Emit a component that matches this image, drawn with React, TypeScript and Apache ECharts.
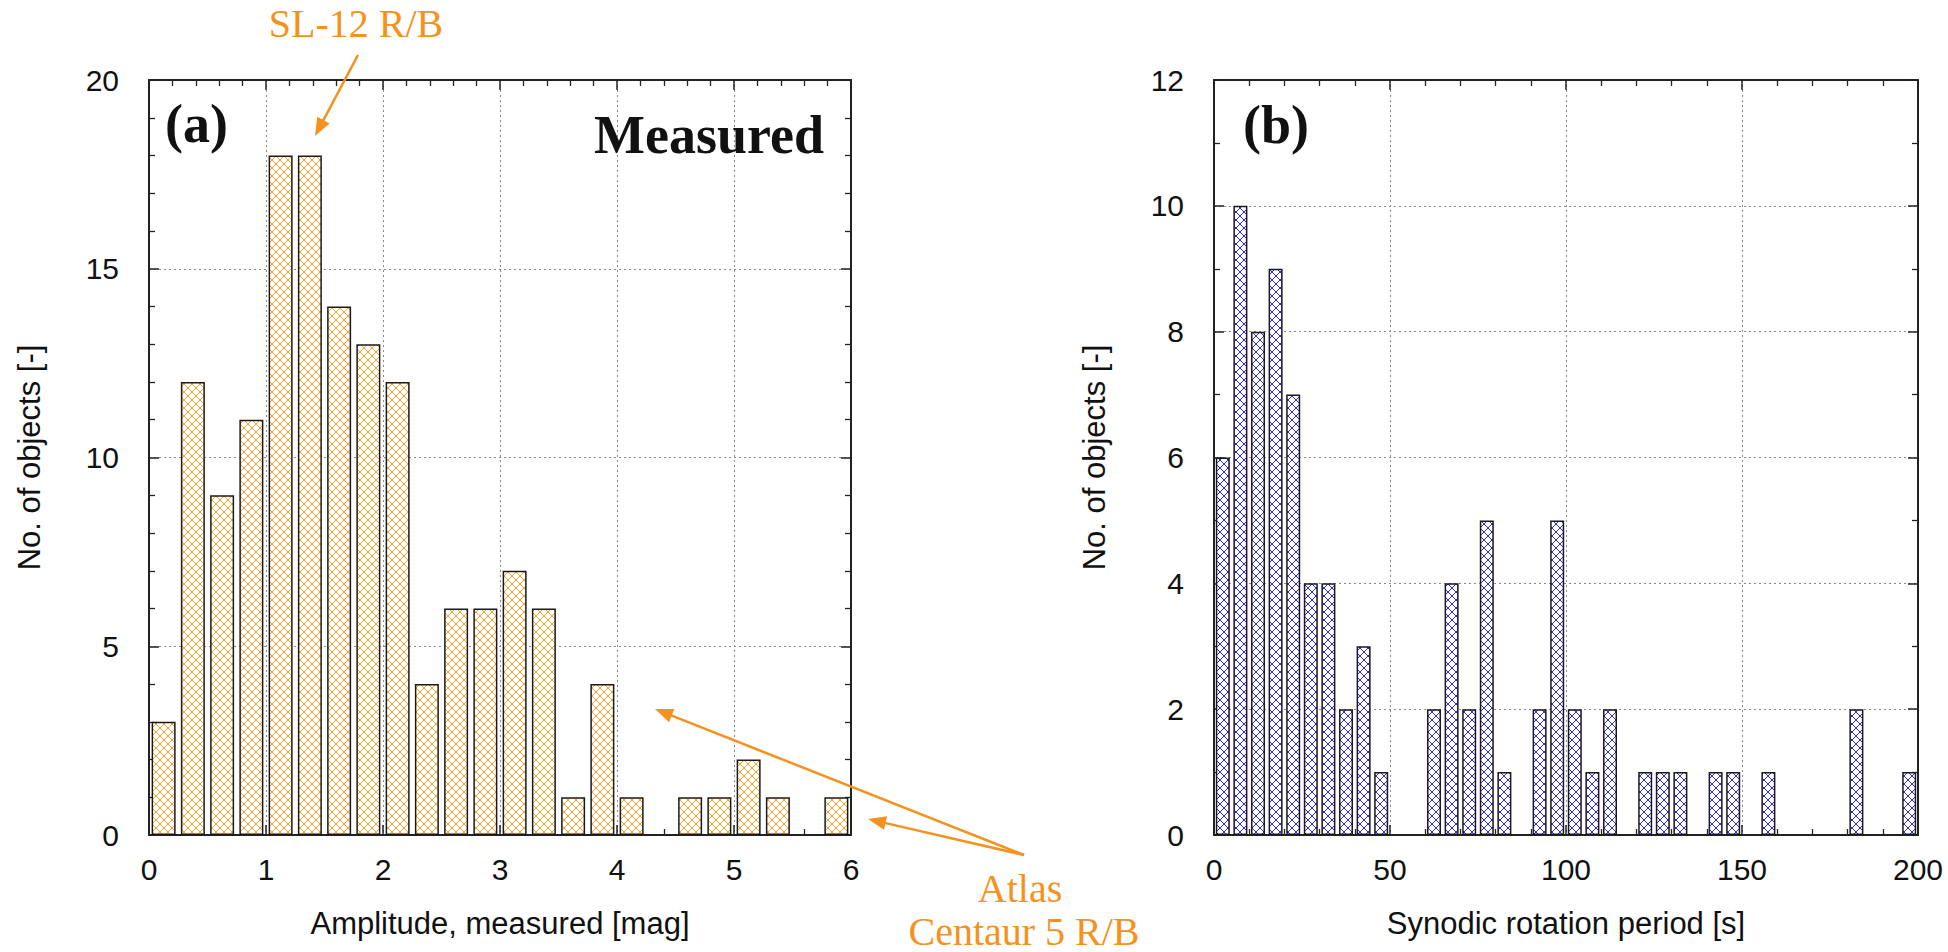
import React, { useEffect, useRef } from "react";
import * as echarts from "echarts";

// ---- data ----
const ampBinCenters = [
  0.125, 0.375, 0.625, 0.875, 1.125, 1.375, 1.625, 1.875, 2.125, 2.375, 2.625, 2.875,
  3.125, 3.375, 3.625, 3.875, 4.125, 4.375, 4.625, 4.875, 5.125, 5.375, 5.625, 5.875,
];
const ampCounts = [3, 12, 9, 11, 18, 18, 14, 13, 12, 4, 6, 6, 7, 6, 1, 4, 1, 0, 1, 1, 2, 1, 0, 1];

const periodBinCenters = [
  2.5, 7.5, 12.5, 17.5, 22.5, 27.5, 32.5, 37.5, 42.5, 47.5,
  52.5, 57.5, 62.5, 67.5, 72.5, 77.5, 82.5, 87.5, 92.5, 97.5,
  102.5, 107.5, 112.5, 117.5, 122.5, 127.5, 132.5, 137.5, 142.5, 147.5,
  152.5, 157.5, 162.5, 167.5, 172.5, 177.5, 182.5, 187.5, 192.5, 197.5,
];
const periodCounts = [
  6, 10, 8, 9, 7, 4, 4, 2, 3, 1,
  0, 0, 2, 4, 2, 5, 1, 0, 2, 5,
  2, 1, 2, 0, 1, 1, 1, 0, 1, 1,
  0, 1, 0, 0, 0, 0, 2, 0, 0, 1,
];

const ampTicks = { min: 0, max: 6, interval: 1 };
const ampCountTicks = { min: 0, max: 20, interval: 5 };
const periodTicks = { min: 0, max: 200, interval: 50 };
const periodCountTicks = { min: 0, max: 12, interval: 2 };

const ORANGE = "#f5921e";
const SANS = "Liberation Sans, Arial, sans-serif";
const SERIF = "Liberation Serif, Times New Roman, serif";

function hatch(color: string, size: number) {
  const c = document.createElement("canvas");
  c.width = size;
  c.height = size;
  const g = c.getContext("2d")!;
  g.fillStyle = "#ffffff";
  g.fillRect(0, 0, size, size);
  g.strokeStyle = color;
  g.lineWidth = 1;
  g.beginPath();
  for (const off of [-size, 0, size]) {
    g.moveTo(off - 1, -1);
    g.lineTo(off + size + 1, size + 1);
    g.moveTo(off + size + 1, -1);
    g.lineTo(off - 1, size + 1);
  }
  g.stroke();
  return { image: c.toDataURL(), repeat: "repeat", imageWidth: size, imageHeight: size } as any;
}

function arrow(x1: number, y1: number, x2: number, y2: number, color: string) {
  const dx = x2 - x1;
  const dy = y2 - y1;
  const len = Math.sqrt(dx * dx + dy * dy);
  const ux = dx / len;
  const uy = dy / len;
  const hl = 18;
  const hw = 7;
  const bx = x2 - ux * hl;
  const by = y2 - uy * hl;
  return [
    {
      type: "line",
      shape: { x1, y1, x2: bx + ux * 2, y2: by + uy * 2 },
      style: { stroke: color, lineWidth: 2.5 },
      z: 100,
    },
    {
      type: "polygon",
      shape: {
        points: [
          [x2, y2],
          [bx - uy * hw, by + ux * hw],
          [bx + uy * hw, by - ux * hw],
        ],
      },
      style: { fill: color },
      z: 100,
    },
  ];
}

const axisLineStyle = { show: true, onZero: false, lineStyle: { color: "#222", width: 2 } };
const labelStyle = { color: "#111", fontSize: 30, fontFamily: SANS };
const splitStyle = { show: true, lineStyle: { color: "#8a8a8a", width: 1, type: [2, 3] as any } };
const majorTick = { show: true, inside: true, length: 10, lineStyle: { color: "#222", width: 1.5 } };

function mkX(gridIndex: number, t: any, minorSplit: number, name: string) {
  const minorTick = { show: true, splitNumber: minorSplit, length: 6, lineStyle: { color: "#222", width: 1.3 } };
  return [
    {
      type: "value",
      gridIndex,
      position: "bottom",
      min: t.min,
      max: t.max,
      interval: t.interval,
      axisLine: axisLineStyle,
      axisTick: majorTick,
      minorTick,
      splitLine: splitStyle,
      axisLabel: { ...labelStyle, margin: 34, verticalAlign: "middle" },
      name,
      nameLocation: "middle",
      nameGap: 88,
      nameTextStyle: { color: "#111", fontSize: 31, fontFamily: SANS, verticalAlign: "middle" },
    },
    {
      type: "value",
      gridIndex,
      position: "top",
      min: t.min,
      max: t.max,
      interval: t.interval,
      axisLine: axisLineStyle,
      axisTick: majorTick,
      minorTick,
      splitLine: { show: false },
      axisLabel: { show: false },
    },
  ];
}

function mkY(gridIndex: number, t: any, minorSplit: number, name: string) {
  const minorTick = { show: true, splitNumber: minorSplit, length: 6, lineStyle: { color: "#222", width: 1.3 } };
  return [
    {
      type: "value",
      gridIndex,
      position: "left",
      min: t.min,
      max: t.max,
      interval: t.interval,
      axisLine: axisLineStyle,
      axisTick: majorTick,
      minorTick,
      splitLine: splitStyle,
      axisLabel: { ...labelStyle, margin: 30 },
      name,
      nameLocation: "middle",
      nameGap: 120,
      nameRotate: 90,
      nameTextStyle: { color: "#111", fontSize: 31, fontFamily: SANS, verticalAlign: "middle" },
    },
    {
      type: "value",
      gridIndex,
      position: "right",
      min: t.min,
      max: t.max,
      interval: t.interval,
      axisLine: axisLineStyle,
      axisTick: majorTick,
      minorTick,
      splitLine: { show: false },
      axisLabel: { show: false },
    },
  ];
}

export default function App() {
  const ref = useRef<HTMLDivElement>(null);

  useEffect(() => {
    document.body.style.margin = "0";
    if (!ref.current) return;
    const chart = echarts.init(ref.current, undefined, { renderer: "svg" });

    const ampData = ampBinCenters
      .map((x, i) => [x, ampCounts[i]])
      .filter((d) => d[1] > 0);
    const periodData = periodBinCenters
      .map((x, i) => [x, periodCounts[i]])
      .filter((d) => d[1] > 0);

    const xs = [...mkX(0, ampTicks, 5, "Amplitude, measured [mag]"), ...mkX(1, periodTicks, 5, "Synodic rotation period [s]")];
    const ys = [...mkY(0, ampCountTicks, 5, "No. of objects [-]"), ...mkY(1, periodCountTicks, 2, "No. of objects [-]")];

    const graphics: any[] = [
      {
        type: "text",
        x: 356,
        y: 23,
        style: { text: "SL-12 R/B", fill: ORANGE, font: `40px ${SERIF}`, align: "center", verticalAlign: "middle" },
        z: 100,
      },
      ...arrow(358, 55, 315, 136, ORANGE),
      {
        type: "text",
        x: 1020,
        y: 888,
        style: { text: "Atlas", fill: ORANGE, font: `40px ${SERIF}`, lineHeight: 34, align: "center", verticalAlign: "middle" },
        z: 100,
      },
      {
        type: "text",
        x: 1024,
        y: 931,
        style: { text: "Centaur 5 R/B", fill: ORANGE, font: `40px ${SERIF}`, lineHeight: 34, align: "center", verticalAlign: "middle" },
        z: 100,
      },
      ...arrow(1024, 855, 655, 709, ORANGE),
      ...arrow(1024, 855, 868, 819, ORANGE),
      {
        type: "text",
        x: 165,
        y: 124,
        style: { text: "(a)", fill: "#111", font: `bold 54px ${SERIF}`, align: "left", verticalAlign: "middle" },
        z: 100,
      },
      {
        type: "text",
        x: 1243,
        y: 125,
        style: { text: "(b)", fill: "#111", font: `bold 54px ${SERIF}`, align: "left", verticalAlign: "middle" },
        z: 100,
      },
      {
        type: "text",
        x: 824,
        y: 135,
        style: { text: "Measured", fill: "#111", font: `bold 54px ${SERIF}`, align: "right", verticalAlign: "middle" },
        z: 100,
      },
    ];

    chart.setOption({
      animation: false,
      backgroundColor: "#ffffff",
      grid: [
        { left: 149, top: 80, width: 702, height: 755 },
        { left: 1214, top: 80, width: 704, height: 755 },
      ],
      xAxis: xs,
      yAxis: ys,
      series: [
        {
          type: "bar",
          xAxisIndex: 0,
          yAxisIndex: 0,
          data: ampData,
          barWidth: 24,
          itemStyle: { color: hatch("#ffa22a", 8), borderColor: "#1a1a1a", borderWidth: 1.5 },
        },
        {
          type: "bar",
          xAxisIndex: 2,
          yAxisIndex: 2,
          data: periodData,
          barWidth: 14,
          itemStyle: { color: hatch("#2a2aff", 8), borderColor: "#1a1a1a", borderWidth: 1.5 },
        },
      ],
      graphic: graphics,
    });

    return () => chart.dispose();
  }, []);

  return <div ref={ref} style={{ width: 1948, height: 952 }} />;
}
